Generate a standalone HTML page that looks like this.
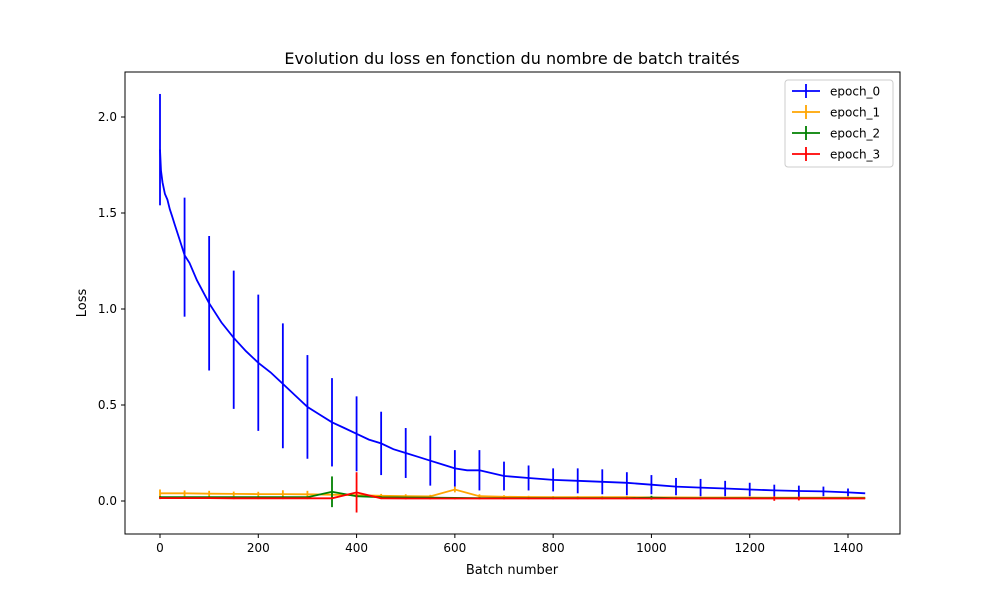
<!DOCTYPE html>
<html><head><meta charset="utf-8"><style>
body{margin:0;background:#fff;}
svg{display:block;font-family:"DejaVu Sans","Liberation Sans",sans-serif;}
</style></head><body>
<svg id="chart" width="1000" height="600">
<rect width="1000" height="600" fill="#fff"/>
<text x="512" y="64" text-anchor="middle" font-size="16">Evolution du loss en fonction du nombre de batch traités</text>
<text x="512" y="574" text-anchor="middle" font-size="13">Batch number</text>
<text x="86" y="303" text-anchor="middle" font-size="13" transform="rotate(-90 86 303)">Loss</text>
<g id="marks"></g>
<rect x="125" y="72" width="775" height="462" fill="none" stroke="#000" stroke-width="1"/>
<g id="axes"></g>
<g id="legend"></g>
</svg>
<script>
const batches = [0,50,100,150,200,250,300,350,400,450,500,550,600,650,700,750,800,850,900,950,1000,1050,1100,1150,1200,1250,1300,1350,1400,1435];
const epoch0 = [1.83,1.27,1.03,0.84,0.72,0.60,0.49,0.41,0.35,0.30,0.25,0.21,0.17,0.16,0.13,0.12,0.11,0.105,0.10,0.09,0.085,0.075,0.07,0.065,0.06,0.055,0.05,0.05,0.045,0.04];
const epoch0Err = [0.29,0.31,0.35,0.36,0.355,0.325,0.27,0.23,0.195,0.165,0.13,0.13,0.095,0.105,0.075,0.065,0.06,0.065,0.065,0.06,0.05,0.045,0.045,0.04,0.035,0.03,0.03,0.025,0.02,0];
const lineBatches0 = [0,2,5,10,15,20,25,30,40,50,60,75,100,125,150,175,200,225,250,275,300,325,350,375,400,425,450,475,500,525,550,575,600,625,650,700,750,800,850,900,950,1000,1050,1100,1150,1200,1250,1300,1350,1400,1435];
const lineEpoch0 = [1.83,1.72,1.66,1.60,1.57,1.52,1.48,1.44,1.36,1.28,1.24,1.15,1.03,0.93,0.85,0.78,0.72,0.67,0.61,0.55,0.49,0.45,0.41,0.38,0.35,0.32,0.30,0.27,0.25,0.23,0.21,0.19,0.17,0.16,0.16,0.13,0.12,0.11,0.105,0.10,0.095,0.085,0.075,0.07,0.065,0.06,0.055,0.052,0.05,0.045,0.04];
const epoch1 = [0.04,0.04,0.038,0.037,0.036,0.036,0.035,0.033,0.03,0.027,0.025,0.024,0.06,0.025,0.022,0.021,0.02,0.02,0.02,0.02,0.019,0.019,0.018,0.018,0.018,0.017,0.017,0.017,0.017,0.017];
const epoch1Err = [0.02,0.015,0.015,0.012,0.012,0.02,0.018,0.018,0.012,0.01,0.01,0.008,0.015,0.01,0.008,0.006,0.006,0.006,0.006,0.006,0.006,0.005,0.005,0.005,0.005,0.005,0.005,0.005,0.008,0];
const epoch2 = [0.02,0.02,0.02,0.02,0.02,0.02,0.02,0.048,0.025,0.02,0.018,0.017,0.016,0.015,0.015,0.015,0.015,0.015,0.015,0.015,0.017,0.015,0.015,0.015,0.015,0.015,0.015,0.015,0.015,0.015];
const epoch2Err = [0.005,0.004,0.004,0.004,0.004,0.004,0.004,0.08,0.005,0.004,0.004,0.004,0.004,0.004,0.004,0.004,0.004,0.004,0.004,0.004,0.01,0.004,0.004,0.004,0.004,0.004,0.004,0.004,0.004,0];
const epoch3 = [0.015,0.015,0.015,0.014,0.014,0.014,0.014,0.014,0.045,0.014,0.013,0.013,0.013,0.013,0.013,0.013,0.013,0.013,0.013,0.013,0.013,0.013,0.013,0.013,0.013,0.013,0.013,0.013,0.013,0.013];
const epoch3Err = [0.005,0.004,0.004,0.004,0.004,0.004,0.004,0.004,0.105,0.004,0.004,0.004,0.004,0.004,0.004,0.004,0.004,0.004,0.004,0.004,0.004,0.004,0.004,0.004,0.004,0.012,0.01,0.004,0.004,0];
const xTicks = [0,200,400,600,800,1000,1200,1400];
const yTicks = [0.0,0.5,1.0,1.5,2.0];
const seriesNames = ["epoch_0","epoch_1","epoch_2","epoch_3"];

const NS="http://www.w3.org/2000/svg";
const xs=v=>160+v*(688/1400);
const ys=v=>501-v*192;
function mk(tag,attrs,parent){const e=document.createElementNS(NS,tag);for(const k in attrs)e.setAttribute(k,attrs[k]);parent.appendChild(e);return e;}
const marks=document.getElementById('marks'),axes=document.getElementById('axes'),legend=document.getElementById('legend');
const colors=["#0000ff","#ffa500","#008000","#ff0000"];
const all=[[epoch0,epoch0Err],[epoch1,epoch1Err],[epoch2,epoch2Err],[epoch3,epoch3Err]];
all.forEach((s,i)=>{
  const g=mk('g',{},marks);
  
  
  const lx=i===0?lineBatches0:batches, lyv=i===0?lineEpoch0:s[0];
  const pts=lx.map((b,j)=>xs(b).toFixed(1)+','+ys(lyv[j]).toFixed(1)).join(' ');
  const pl=mk('polyline',{points:pts,fill:'none',stroke:colors[i],'stroke-width':1.8},g);
  
  
  batches.forEach((b,j)=>{
    if(s[1][j]<=0)return;
    const l=mk('line',{x1:xs(b),x2:xs(b),y1:ys(s[0][j]+s[1][j]),y2:ys(s[0][j]-s[1][j]),stroke:colors[i],'stroke-width':1.8},g);
    
    
  });
});
xTicks.forEach(t=>{
  mk('line',{x1:xs(t),x2:xs(t),y1:534,y2:538,stroke:'#000'},axes);
  const tx=mk('text',{x:xs(t),y:552,'text-anchor':'middle','font-size':12},axes);
  tx.textContent=t;
  
  
});
yTicks.forEach(t=>{
  mk('line',{x1:121,x2:125,y1:ys(t),y2:ys(t),stroke:'#000'},axes);
  const tx=mk('text',{x:117,y:ys(t)+4,'text-anchor':'end','font-size':12},axes);
  tx.textContent=t.toFixed(1);
  
  
});
const box=mk('rect',{x:785,y:80,width:108,height:87,rx:3,fill:'#fff','fill-opacity':0.8,stroke:'#ccc'},legend);


seriesNames.forEach((n,i)=>{
  const y=91+i*21;
  const g=mk('g',{},legend);
  
  
  mk('line',{x1:792,x2:820,y1:y,y2:y,stroke:colors[i],'stroke-width':1.8},g);
  mk('line',{x1:806,x2:806,y1:y-7,y2:y+7,stroke:colors[i],'stroke-width':1.8},g);
  const t=mk('text',{x:830,y:y+4.5,'font-size':12},g);
  t.textContent=n;
});
</script>
</body></html>
